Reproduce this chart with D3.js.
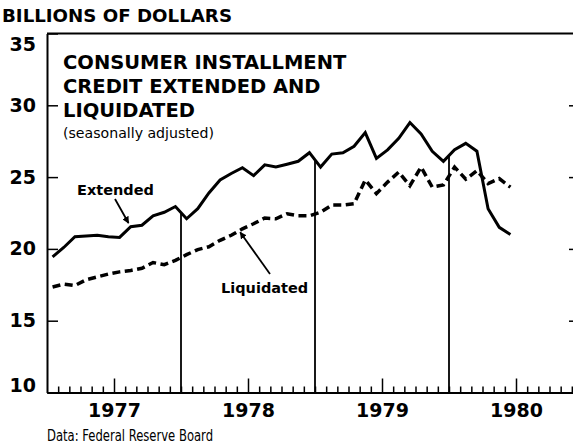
<!DOCTYPE html>
<html>
<head>
<meta charset="utf-8">
<script src="https://cdn.jsdelivr.net/npm/d3@7"></script>
<style>
  body { margin: 0; background: #fff; }
  svg { display: block; }
  text { fill: #000; font-family: "DejaVu Sans", sans-serif; }
</style>
</head>
<body>
<div class="canvas"></div>
<script>
// monthly, Jan 1977 - Jun 1980, billions of dollars (seasonally adjusted)
const extended = [
  19.45, 20.1, 20.85, 20.9, 20.95, 20.85, 20.8, 21.55, 21.65, 22.3, 22.55, 22.95,
  22.1, 22.8, 23.9, 24.8, 25.25, 25.65, 25.1, 25.85, 25.7, 25.9, 26.1, 26.7,
  25.7, 26.6, 26.7, 27.15, 28.1, 26.3, 26.9, 27.7, 28.8, 28.0, 26.8, 26.1,
  26.9, 27.35, 26.8, 22.8, 21.5, 21.0
];
const liquidated = [
  17.35, 17.55, 17.45, 17.85, 18.05, 18.25, 18.4, 18.5, 18.65, 19.05, 18.9, 19.2,
  19.6, 19.95, 20.15, 20.6, 20.95, 21.4, 21.75, 22.15, 22.1, 22.45, 22.3, 22.3,
  22.55, 23.05, 23.05, 23.15, 24.8, 23.85, 24.65, 25.35, 24.4, 25.7, 24.3, 24.45,
  25.7, 24.85, 25.45, 24.55, 24.9, 24.3
];
const yearLabels = ['1977', '1978', '1979', '1980'];
const yTicks = [10, 15, 20, 25, 30, 35];
const titleLines = ['CONSUMER INSTALLMENT', 'CREDIT EXTENDED AND', 'LIQUIDATED'];

const dims = { width: 573, height: 444 };

// create svg container
const svg = d3.select('.canvas')
  .append('svg')
  .attr('width', dims.width)
  .attr('height', dims.height);

// month index scale: 0 = Jan 1 1977, 48 = Jan 1 1981
const x = d3.scaleLinear().domain([0, 48]).range([47, 583]);
const y = d3.scaleLinear().domain([10, 35]).range([392.5, 33.5]);

// top frame line
svg.append('line')
  .attr('x1', x(0)).attr('x2', dims.width)
  .attr('y1', y(35)).attr('y2', y(35))
  .attr('stroke', '#000').attr('stroke-width', 2);

// left axis, ticks pointing in
const yAxis = d3.axisLeft(y)
  .tickValues(yTicks)
  .tickSizeInner(-11)
  .tickSizeOuter(0)
  .tickPadding(11);

const yAxisGroup = svg.append('g')
  .attr('transform', `translate(${x(0)},0)`)
  .call(yAxis);
yAxisGroup.select('.domain').attr('stroke-width', 2);
yAxisGroup.selectAll('.tick line').attr('stroke-width', 1.5);
yAxisGroup.selectAll('text')
  .style('font-size', '19px')
  .style('font-weight', 'bold')
  .style('font-family', '"DejaVu Sans", sans-serif')
  .attr('dy', d => d == 35 ? '0.9em' : d == 10 ? '-0.05em' : '0.32em');

// right side stubs
const yAxisRight = d3.axisLeft(y)
  .tickValues([15, 20, 25, 30])
  .tickSize(6)
  .tickFormat('');
svg.append('g')
  .attr('transform', `translate(575,0)`)
  .call(yAxisRight)
  .call(g => g.select('.domain').remove())
  .selectAll('.tick line').attr('stroke-width', 1.5);

// bottom axis with month ticks
const xAxis = d3.axisBottom(x)
  .tickValues(d3.range(1, 48))
  .tickSizeInner(-6)
  .tickSizeOuter(0)
  .tickFormat('');

const xAxisGroup = svg.append('g')
  .attr('transform', `translate(0,${y(10)})`)
  .call(xAxis);
xAxisGroup.select('.domain').attr('stroke-width', 2);
xAxisGroup.selectAll('.tick line')
  .attr('stroke-width', 1.5)
  .attr('y2', d => d % 12 == 6 ? -14 : -6);

// year labels
const yearAxis = d3.axisBottom(x)
  .tickValues([6, 18, 30, 42])
  .tickSize(0)
  .tickPadding(11)
  .tickFormat((d, i) => yearLabels[i]);
svg.append('g')
  .attr('transform', `translate(0,${y(10)})`)
  .call(yearAxis)
  .call(g => g.select('.domain').remove())
  .selectAll('text')
    .style('font-size', '19px')
    .style('font-weight', 'bold')
    .style('font-family', '"DejaVu Sans", sans-serif');

// year separators, from the extended line down to the axis
[12, 24, 36].forEach(k => {
  const v = (extended[k - 1] + extended[k]) / 2;
  svg.append('line')
    .attr('x1', x(k)).attr('x2', x(k))
    .attr('y1', y(v)).attr('y2', y(10))
    .attr('stroke', '#000')
    .attr('stroke-width', 1.8);
});

const line = d3.line()
  .x((d, i) => x(i + 0.5))
  .y(d => y(d));

svg.append('path')
  .datum(liquidated)
  .attr('d', line)
  .attr('fill', 'none')
  .attr('stroke', '#000')
  .attr('stroke-width', 3.5)
  .attr('stroke-dasharray', '8,4.5');

svg.append('path')
  .datum(extended)
  .attr('d', line)
  .attr('fill', 'none')
  .attr('stroke', '#000')
  .attr('stroke-width', 3)
  .attr('stroke-linejoin', 'miter');

// arrowhead marker
svg.append('defs').append('marker')
  .attr('id', 'arrow')
  .attr('viewBox', '0 0 10 10')
  .attr('refX', 9).attr('refY', 5)
  .attr('markerWidth', 7).attr('markerHeight', 7)
  .attr('markerUnits', 'userSpaceOnUse')
  .attr('orient', 'auto')
  .append('path')
    .attr('d', 'M0,0 L10,5 L0,10 z')
    .attr('fill', '#000');

// labels + arrows
svg.append('text')
  .attr('x', 77).attr('y', 195)
  .style('font-size', '14.5px').style('font-weight', 'bold')
  .text('Extended');
svg.append('line')
  .attr('x1', 115).attr('y1', 199)
  .attr('x2', x(7.3)).attr('y2', y(21.8))
  .attr('stroke', '#000').attr('stroke-width', 1.8)
  .attr('marker-end', 'url(#arrow)');

svg.append('text')
  .attr('x', 221).attr('y', 293)
  .style('font-size', '14.5px').style('font-weight', 'bold')
  .text('Liquidated');
svg.append('line')
  .attr('x1', 270).attr('y1', 274)
  .attr('x2', x(17.3)).attr('y2', y(21.3) + 2)
  .attr('stroke', '#000').attr('stroke-width', 1.8)
  .attr('marker-end', 'url(#arrow)');

// title block
svg.append('text')
  .attr('x', 2).attr('y', 22)
  .attr('textLength', 230)
  .attr('lengthAdjust', 'spacingAndGlyphs')
  .style('font-size', '17px')
  .style('font-weight', 'bold')
  .text('BILLIONS OF DOLLARS');

svg.append('g').selectAll('text')
  .data(titleLines)
  .enter().append('text')
    .attr('x', 63)
    .attr('y', (d, i) => 69 + i * 24)
    .style('font-size', '19.5px')
    .style('font-weight', 'bold')
    .text(d => d);

svg.append('text')
  .attr('x', 63).attr('y', 138)
  .attr('textLength', 151)
  .attr('lengthAdjust', 'spacingAndGlyphs')
  .style('font-size', '14px')
  .text('(seasonally adjusted)');

svg.append('text')
  .attr('x', 47).attr('y', 441)
  .attr('textLength', 166)
  .attr('lengthAdjust', 'spacingAndGlyphs')
  .style('font-size', '15.5px')
  .style('font-family', '"Liberation Sans Narrow", "DejaVu Sans Condensed", sans-serif')
  .text('Data: Federal Reserve Board');
</script>
</body>
</html>
